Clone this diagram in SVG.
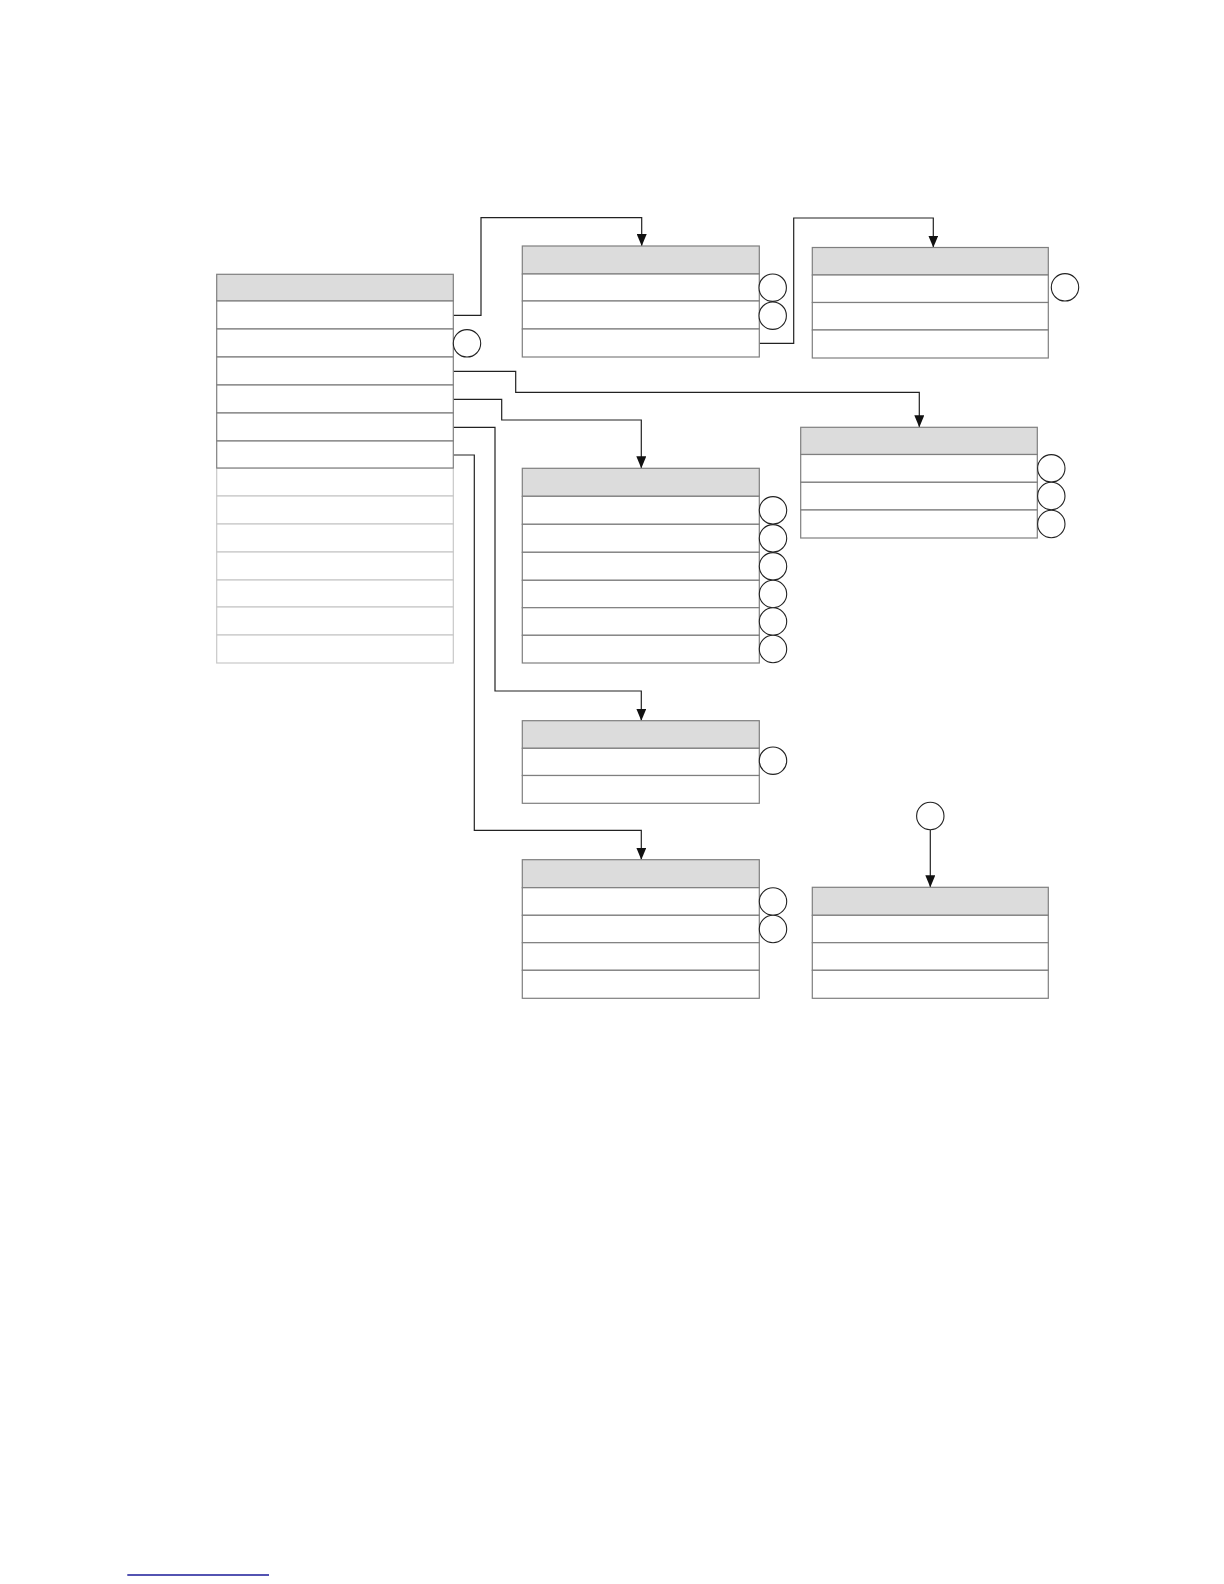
<svg xmlns="http://www.w3.org/2000/svg" width="1224" height="1584" viewBox="0 0 1224 1584">
<style>
.hd{fill:#dcdcdc;stroke:#7f7f7f;stroke-width:1.2}
.rw{fill:#ffffff;stroke:#7f7f7f;stroke-width:1.2}
.lt{fill:#ffffff;stroke:#c8c8c8;stroke-width:1.2}
.ci{fill:#ffffff;stroke:#222222;stroke-width:1.1}
.cn{fill:none;stroke:#222222;stroke-width:1.2}
</style>
<defs>
<marker id="ah" markerUnits="userSpaceOnUse" markerWidth="12" markerHeight="10" refX="12" refY="5" orient="auto">
<path d="M0,0 L12,5 L0,10 z" fill="#111111"/>
</marker>
</defs>
<rect width="1224" height="1584" fill="#ffffff"/>

<g id="connectors">
<polyline class="cn" points="453.3,315.3 481,315.3 481,217.7 641.7,217.7 641.7,246" marker-end="url(#ah)"/>
<polyline class="cn" points="759.3,343.3 793.7,343.3 793.7,218 933.3,218 933.3,247.5" marker-end="url(#ah)"/>
<polyline class="cn" points="453.3,371.3 515.7,371.3 515.7,392.3 919.3,392.3 919.3,427.3" marker-end="url(#ah)"/>
<polyline class="cn" points="453.3,399.3 501.7,399.3 501.7,420 641.3,420 641.3,468.3" marker-end="url(#ah)"/>
<polyline class="cn" points="453.3,427.3 495,427.3 495,691 641.3,691 641.3,720.7" marker-end="url(#ah)"/>
<polyline class="cn" points="453.3,455 474.3,455 474.3,830.3 641.3,830.3 641.3,859.7" marker-end="url(#ah)"/>
<line class="cn" x1="930.3" y1="830" x2="930.3" y2="887.3" marker-end="url(#ah)"/>
</g>

<g id="main-table">
<rect class="lt" x="216.7" y="468" width="236.6" height="28"/>
<rect class="lt" x="216.7" y="496" width="236.6" height="28"/>
<rect class="lt" x="216.7" y="524" width="236.6" height="28"/>
<rect class="lt" x="216.7" y="552" width="236.6" height="28"/>
<rect class="lt" x="216.7" y="580" width="236.6" height="27"/>
<rect class="lt" x="216.7" y="607" width="236.6" height="28"/>
<rect class="lt" x="216.7" y="635" width="236.6" height="28"/>
<rect class="hd" x="216.7" y="274.3" width="236.6" height="26.7"/>
<rect class="rw" x="216.7" y="301" width="236.6" height="28"/>
<rect class="rw" x="216.7" y="329" width="236.6" height="28"/>
<rect class="rw" x="216.7" y="357" width="236.6" height="28"/>
<rect class="rw" x="216.7" y="385" width="236.6" height="28"/>
<rect class="rw" x="216.7" y="413" width="236.6" height="28"/>
<rect class="rw" x="216.7" y="441" width="236.6" height="27"/>
<circle class="ci" cx="467" cy="343.3" r="13.7"/>
</g>

<g id="table-a">
<rect class="hd" x="522.3" y="246" width="237" height="28"/>
<rect class="rw" x="522.3" y="274" width="237" height="27"/>
<rect class="rw" x="522.3" y="301" width="237" height="28"/>
<rect class="rw" x="522.3" y="329" width="237" height="28"/>
<circle class="ci" cx="772.7" cy="287.7" r="13.7"/>
<circle class="ci" cx="772.7" cy="315.7" r="13.7"/>
</g>

<g id="table-b">
<rect class="hd" x="812.3" y="247.5" width="236" height="27.5"/>
<rect class="rw" x="812.3" y="275" width="236" height="27.5"/>
<rect class="rw" x="812.3" y="302.5" width="236" height="27.5"/>
<rect class="rw" x="812.3" y="330" width="236" height="28"/>
<circle class="ci" cx="1065" cy="287.3" r="13.7"/>
</g>

<g id="table-c">
<rect class="hd" x="800.7" y="427.3" width="236.6" height="27.2"/>
<rect class="rw" x="800.7" y="454.5" width="236.6" height="27.8"/>
<rect class="rw" x="800.7" y="482.3" width="236.6" height="27.7"/>
<rect class="rw" x="800.7" y="510" width="236.6" height="28"/>
<circle class="ci" cx="1051.3" cy="468.3" r="13.7"/>
<circle class="ci" cx="1051.3" cy="496" r="13.7"/>
<circle class="ci" cx="1051.3" cy="524" r="13.7"/>
</g>

<g id="table-d">
<rect class="hd" x="522.3" y="468.3" width="237" height="28"/>
<rect class="rw" x="522.3" y="496.3" width="237" height="28"/>
<rect class="rw" x="522.3" y="524.3" width="237" height="28"/>
<rect class="rw" x="522.3" y="552.3" width="237" height="28"/>
<rect class="rw" x="522.3" y="580.3" width="237" height="27.4"/>
<rect class="rw" x="522.3" y="607.7" width="237" height="27.6"/>
<rect class="rw" x="522.3" y="635.3" width="237" height="27.7"/>
<circle class="ci" cx="773" cy="510.3" r="13.7"/>
<circle class="ci" cx="773" cy="538.3" r="13.7"/>
<circle class="ci" cx="773" cy="566.3" r="13.7"/>
<circle class="ci" cx="773" cy="594" r="13.7"/>
<circle class="ci" cx="773" cy="621.5" r="13.7"/>
<circle class="ci" cx="773" cy="649" r="13.7"/>
</g>

<g id="table-e">
<rect class="hd" x="522.3" y="720.7" width="237" height="27.6"/>
<rect class="rw" x="522.3" y="748.3" width="237" height="27.2"/>
<rect class="rw" x="522.3" y="775.5" width="237" height="27.8"/>
<circle class="ci" cx="773" cy="760.7" r="13.7"/>
</g>

<g id="table-f">
<rect class="hd" x="522.3" y="859.7" width="237" height="28"/>
<rect class="rw" x="522.3" y="887.7" width="237" height="27.6"/>
<rect class="rw" x="522.3" y="915.3" width="237" height="27.4"/>
<rect class="rw" x="522.3" y="942.7" width="237" height="27.6"/>
<rect class="rw" x="522.3" y="970.3" width="237" height="28"/>
<circle class="ci" cx="773" cy="901.5" r="13.7"/>
<circle class="ci" cx="773" cy="929" r="13.7"/>
</g>

<g id="table-g">
<rect class="hd" x="812.3" y="887.3" width="236" height="28"/>
<rect class="rw" x="812.3" y="915.3" width="236" height="27.4"/>
<rect class="rw" x="812.3" y="942.7" width="236" height="27.6"/>
<rect class="rw" x="812.3" y="970.3" width="236" height="28"/>
</g>

<g id="source-circle">
<circle class="ci" cx="930.3" cy="816" r="13.7"/>
</g>

<line x1="127.3" y1="1575" x2="269" y2="1575" stroke="#1a1a99" stroke-width="1.3"/>
</svg>
